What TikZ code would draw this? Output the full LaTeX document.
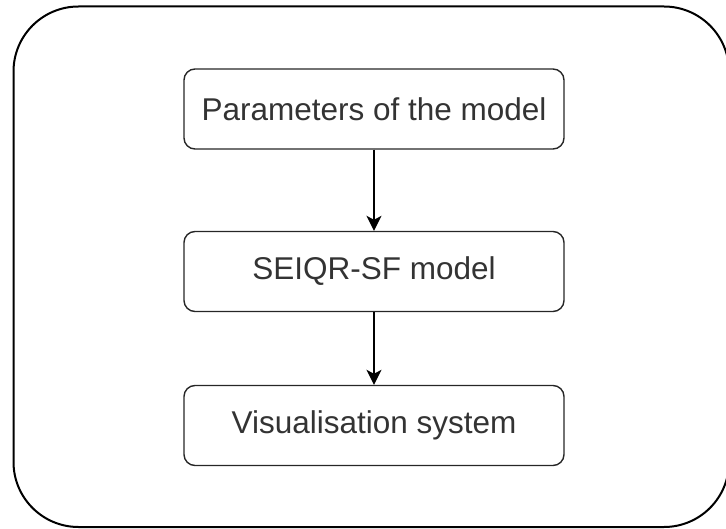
\documentclass[tikz,border=0pt]{standalone}
\usepackage{fontspec}
\setmainfont{Liberation Sans}
\usetikzlibrary{arrows.meta}
\begin{document}
\begin{tikzpicture}[x=1pt,y=-1pt,
  stagebox/.style={draw=black!85, line width=1.4pt, rounded corners=11pt,
    minimum width=380pt, minimum height=80pt, inner sep=0pt,
    font=\fontsize{31.5}{36}\selectfont, text=black!80},
  flow/.style={draw=black, line width=1.4pt,
    -{Stealth[length=15pt,width=15pt,inset=4pt]}}]
  \useasboundingbox (0,0) rectangle (726,529);
  % outer frame
  \draw[black, line width=2pt, rounded corners=65pt] (13.5,6.5) rectangle (729,527);
  % pipeline stages
  \node[stagebox] (params) at (374,109) {Parameters of the model};
  \node[stagebox] (model)  at (374,271.5) {SEIQR-SF model};
  \node[stagebox] (vis)    at (374,425.5) {Visualisation system};
  \draw[flow] (params) -- (model);
  \draw[flow] (model) -- (vis);
\end{tikzpicture}
\end{document}
